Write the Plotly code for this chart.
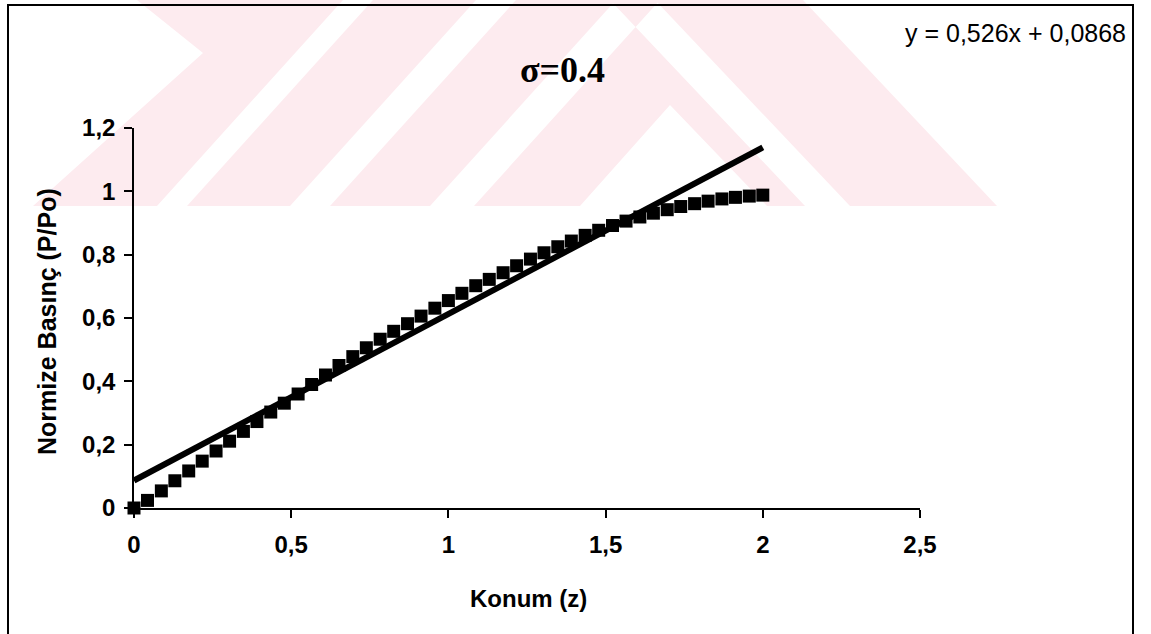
import plotly.graph_objects as go

# ---- data ----
konum = [0.000, 0.043, 0.087, 0.130, 0.174, 0.217, 0.261, 0.304, 0.348, 0.391,
         0.435, 0.478, 0.522, 0.565, 0.609, 0.652, 0.696, 0.739, 0.783, 0.826,
         0.870, 0.913, 0.957, 1.000, 1.043, 1.087, 1.130, 1.174, 1.217, 1.261,
         1.304, 1.348, 1.391, 1.435, 1.478, 1.522, 1.565, 1.609, 1.652, 1.696,
         1.739, 1.783, 1.826, 1.870, 1.913, 1.957, 2.000]
basinc = [0.000, 0.024, 0.054, 0.086, 0.117, 0.148, 0.180, 0.211, 0.242, 0.273,
          0.303, 0.331, 0.360, 0.390, 0.420, 0.450, 0.478, 0.506, 0.533, 0.558,
          0.582, 0.606, 0.631, 0.655, 0.678, 0.702, 0.722, 0.743, 0.765, 0.786,
          0.806, 0.825, 0.843, 0.861, 0.877, 0.892, 0.906, 0.919, 0.931, 0.942,
          0.952, 0.961, 0.969, 0.976, 0.981, 0.985, 0.988]
trend_slope = 0.526
trend_intercept = 0.0868
trend_x = [0.0, 2.0]
x_ticks = [0, 0.5, 1, 1.5, 2, 2.5]
y_ticks = [0, 0.2, 0.4, 0.6, 0.8, 1.0, 1.2]
title_text = "σ=0.4"
equation_text = "y = 0,526x + 0,0868"
x_title = "Konum (z)"
y_title = "Normize Basınç (P/Po)"

trend_y = [trend_slope * x + trend_intercept for x in trend_x]

SANS = "Liberation Sans, Arial, sans-serif"
SERIF = "Liberation Serif, Times New Roman, serif"
PINK = "#fdebef"

# page geometry (pixels)
W, H = 1151, 634
ML, MR, MT, MB = 134, 231, 128, 126
PW, PH = W - ML - MR, H - MT - MB


def px(xp):
    return (xp - ML) / PW


def py(yp):
    return (H - MB - yp) / PH


def poly(points):
    # decorative scan watermark polygon, page pixel coords -> paper coords
    d = "M " + " L ".join(f"{px(a):.5f},{py(b):.5f}" for a, b in points) + " Z"
    return dict(type="path", xref="paper", yref="paper", path=d,
                fillcolor=PINK, line=dict(width=0), layer="below")


# faint watermark of the scanned page (background decoration)
watermark = [
    [(137, 0), (203, 53), (33, 206), (157, 206), (343, 0)],
    [(187, 206), (290, 206), (476, 0), (373, 0)],
    [(330, 206), (430, 206), (616, 0), (516, 0)],
    [(474, 206), (580, 206), (670, 105), (767, 206), (805, 206),
     (610, 0), (660, 0)],
    [(850, 206), (997, 206), (803, 0), (655, 0)],
]

fig = go.Figure()
fig.add_trace(go.Scatter(
    x=konum, y=basinc, mode="markers",
    marker=dict(symbol="square", size=13, color="black", line=dict(width=0)),
    cliponaxis=False, showlegend=False, hoverinfo="skip"))
fig.add_trace(go.Scatter(
    x=trend_x, y=trend_y, mode="lines",
    line=dict(color="black", width=6),
    cliponaxis=False, showlegend=False, hoverinfo="skip"))

axis_common = dict(
    showline=True, linecolor="black", linewidth=1.5,
    ticks="outside", ticklen=8, tickcolor="black", tickwidth=1.5,
    showgrid=False, zeroline=False,
    tickfont=dict(family=SANS, size=24, color="black", weight="bold"),
)
fig.update_xaxes(range=[0, 2.5], tickvals=x_ticks, ticklabelstandoff=6, **axis_common)
fig.update_yaxes(range=[0, 1.2], tickvals=y_ticks, ticklabelstandoff=4, **axis_common)

annotations = [
    dict(text=title_text, x=px(562), y=py(70), xref="paper", yref="paper",
         showarrow=False, xanchor="center", yanchor="middle",
         font=dict(family=SERIF, size=36, color="black", weight="bold")),
    dict(text=equation_text, x=px(1128), y=py(33), xref="paper", yref="paper",
         showarrow=False, xanchor="right", yanchor="middle",
         font=dict(family=SANS, size=25, color="black")),
    dict(text=x_title, x=px(528), y=py(598), xref="paper", yref="paper",
         showarrow=False, xanchor="center", yanchor="middle",
         font=dict(family=SANS, size=24, color="black", weight="bold")),
    dict(text=y_title, x=px(47), y=py(322), xref="paper", yref="paper",
         showarrow=False, xanchor="center", yanchor="middle", textangle=-90,
         font=dict(family=SANS, size=25, color="black", weight="bold")),
]

shapes = [poly(p) for p in watermark] + [
    dict(type="rect", xref="paper", yref="paper",
         x0=px(8), x1=px(1133), y0=py(660), y1=py(5),
         line=dict(color="black", width=2), fillcolor="rgba(0,0,0,0)",
         layer="above"),
]

fig.update_layout(
    width=W, height=H, margin=dict(l=ML, r=MR, t=MT, b=MB),
    paper_bgcolor="white", plot_bgcolor="rgba(0,0,0,0)",
    separators=",.", annotations=annotations, shapes=shapes,
    showlegend=False,
)

fig.write_html("out.html")
